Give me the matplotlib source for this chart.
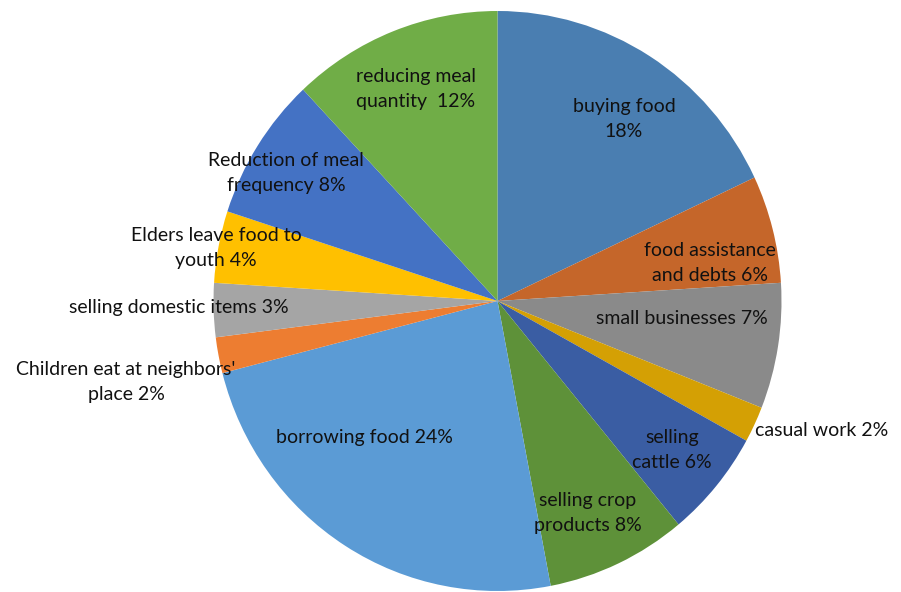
import matplotlib.pyplot as plt

# coping strategies, clockwise from 12 o'clock
labels = [
    "buying food\n18%",
    "food assistance\nand debts 6%",
    "small businesses 7%",
    "casual work 2%",
    "selling\ncattle 6%",
    "selling crop\nproducts 8%",
    "borrowing food 24%",
    "Children eat at neighbors'\nplace 2%",
    "selling domestic items 3%",
    "Elders leave food to\nyouth 4%",
    "Reduction of meal\nfrequency 8%",
    "reducing meal\nquantity  12%",
]
shares = [18, 6, 7, 2, 6, 8, 24, 2, 3, 4, 8, 12]

colors = ["#4A7EB1", "#C5662A", "#8A8A8A", "#D4A004", "#3A5DA3", "#5E9139",
          "#5B9BD5", "#ED7D31", "#A5A5A5", "#FFC000", "#4472C4", "#70AD47"]

# where each label block sits, in pie-radius units
label_xy = [(0.445, 0.628), (0.748, 0.131), (0.650, -0.062), (1.143, -0.445),
            (0.614, -0.514), (0.319, -0.731), (-0.467, -0.469), (-1.308, -0.279),
            (-1.121, -0.021), (-0.991, 0.183), (-0.745, 0.441), (-0.287, 0.731)]

plt.rcParams['font.family'] = ['Lato', 'DejaVu Sans']

fig = plt.figure(figsize=(9.01, 5.92), dpi=100)
ax = fig.add_axes([0, 0, 1, 1])

ax.pie(shares, colors=colors, startangle=90, counterclock=False, radius=1,
       center=(0, 0), wedgeprops=dict(linewidth=0))

for txt, (x, y) in zip(labels, label_xy):
    ax.text(x, y, txt, ha='center', va='center', fontsize=14,
            linespacing=1.6, color='#111111')

# pie is drawn a touch narrower than tall
ax.set_xlim(-497.5 / 284, 403.5 / 284)
ax.set_ylim(-291 / 290, 301 / 290)
ax.set_aspect('auto')
ax.axis('off')

fig.savefig('out.png', dpi=100)
